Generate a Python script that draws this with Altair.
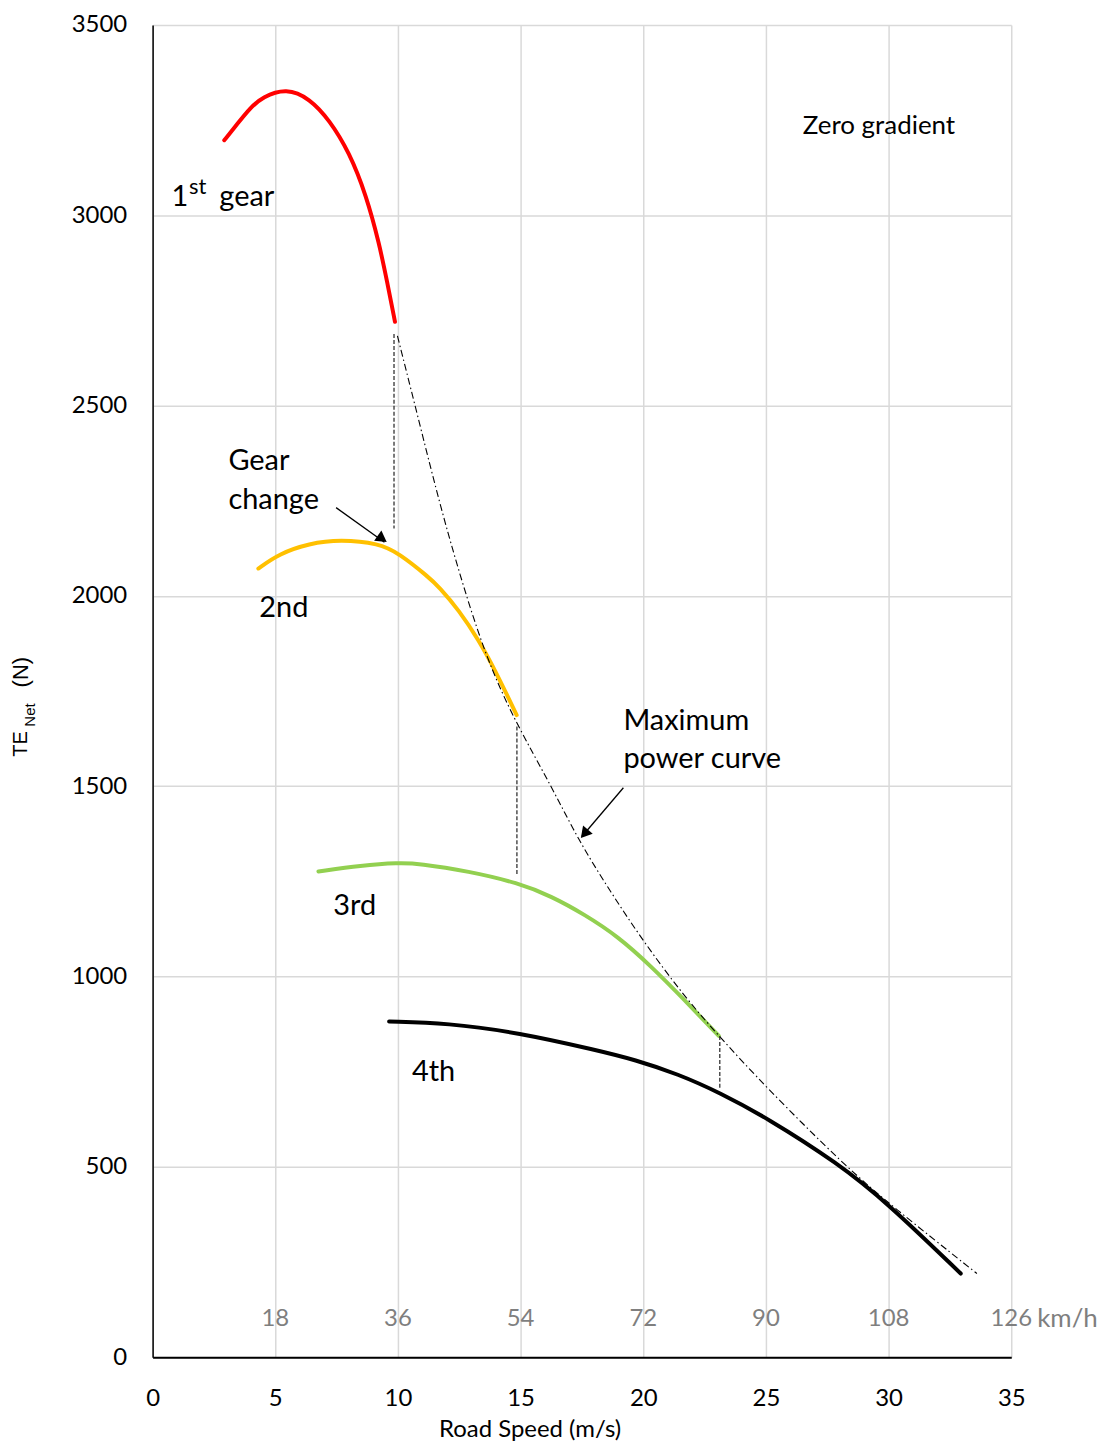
import altair as alt
import pandas as pd

# ---- data ----
gear1_x = [2.92, 3.43, 3.96, 4.49, 5.45, 6.40, 7.21, 8.02, 8.71, 9.24, 9.56, 9.88]
gear1_y = [3197, 3238, 3281, 3311, 3334, 3307, 3250, 3165, 3052, 2925, 2825, 2720]

gear2_x = [4.31, 5.16, 6.38, 7.65, 9.23, 10.04, 11.26, 11.67, 12.48, 13.29, 13.96, 14.84]
gear2_y = [2072, 2111, 2138, 2148, 2138, 2112, 2049, 2024, 1963, 1884, 1805, 1687]

gear3_x = [6.76, 8.50, 10.04, 10.85, 12.88, 14.91, 16.26, 17.61, 18.96, 20.31, 21.66, 23.08]
gear3_y = [1276, 1292, 1299, 1297, 1277, 1246, 1211, 1163, 1106, 1028, 940, 844]

gear4_x = [9.64, 12.00, 14.91, 18.15, 19.64, 21.42, 23.12, 25.01, 27.93, 29.96, 32.94]
gear4_y = [882, 878, 853, 806, 782, 744, 695, 630, 510, 405, 220]

maxp_x = [9.98, 10.72, 11.53, 12.34, 13.56, 14.84, 16.26, 17.34, 18.69, 20.04, 21.66, 23.08, 25.01, 28.20, 30.10, 33.60]
maxp_y = [2683, 2495, 2285, 2094, 1840, 1662, 1500, 1360, 1220, 1089, 949, 844, 709, 504, 399, 220]

# gear-change verticals: x, top, bottom
change_x = [9.84, 14.85, 23.12]
change_top = [2688, 1657, 844]
change_bot = [2177, 1264, 705]

gear_names = ["1st", "2nd", "3rd", "4th"]
gear_colors = ["#ff0000", "#ffc000", "#92d050", "#000000"]

kmh_pos = [5, 10, 15, 20, 25, 30, 35]
kmh_labels = ["18", "36", "54", "72", "90", "108", "126"]

x_ticks = [0, 5, 10, 15, 20, 25, 30, 35]
y_ticks = [0, 500, 1000, 1500, 2000, 2500, 3000, 3500]

FONT = "Lato"

# ---- tables ----
rows = []
for name, xs, ys in zip(gear_names, [gear1_x, gear2_x, gear3_x, gear4_x],
                        [gear1_y, gear2_y, gear3_y, gear4_y]):
    for i, (a, b) in enumerate(zip(xs, ys)):
        rows.append({"x": a, "y": b, "gear": name, "o": i})
curves = pd.DataFrame(rows)
maxp = pd.DataFrame({"x": maxp_x, "y": maxp_y, "o": list(range(len(maxp_x)))})
changes = pd.DataFrame({"x": change_x, "y": change_top, "y2": change_bot})
kmh = pd.DataFrame({"x": kmh_pos, "y": [100] * len(kmh_pos), "t": kmh_labels})

xscale = alt.Scale(domain=[0, 35], nice=False, zero=False)
yscale = alt.Scale(domain=[0, 3500], nice=False)
xaxis = alt.Axis(values=x_ticks, grid=True, gridColor="#d9d9d9", gridWidth=1.5,
                 domainColor="#000000", domainWidth=1.8, ticks=False, labelFlush=False,
                 labelFont=FONT, labelFontSize=24, labelColor="#000000", labelPadding=29,
                 title="Road Speed (m/s)", titleFont=FONT, titleFontSize=24,
                 titleFontWeight="normal", titleColor="#000000",
                 titleX=378, titleY=72, titleBaseline="middle", titleAlign="center")
yaxis = alt.Axis(values=y_ticks, grid=True, gridColor="#d9d9d9", gridWidth=1.5, format="d",
                 domainColor="#000000", domainWidth=1.5, ticks=False, labelFlush=False,
                 labelFont=FONT, labelFontSize=24, labelColor="#000000", labelPadding=26,
                 title="")
X = alt.X("x:Q", scale=xscale, axis=xaxis)
Y = alt.Y("y:Q", scale=yscale, axis=yaxis)

lines = alt.Chart(curves).mark_line(strokeWidth=4, interpolate="basis", strokeCap="round").encode(
    x=X, y=Y,
    color=alt.Color("gear:N", scale=alt.Scale(domain=gear_names, range=gear_colors), legend=None),
    order="o:Q",
)

maxline = alt.Chart(maxp).mark_line(strokeWidth=1.1, color="#000000", interpolate="basis",
                                     strokeDash=[7, 3, 1.5, 3]).encode(x=X, y=Y, order="o:Q")

vlines = alt.Chart(changes).mark_rule(strokeWidth=1.2, color="#222222", strokeDash=[4, 2]).encode(
    x=X, y=Y, y2="y2:Q")

kmh_text = alt.Chart(kmh).mark_text(font=FONT, fontSize=24, color="#7f7f7f",
                                    align="center", baseline="middle").encode(x=X, y=Y, text="t:N")
kmh_unit = alt.Chart(pd.DataFrame({"x": [35], "y": [100]})).mark_text(
    font=FONT, fontSize=26, color="#7f7f7f", align="left", baseline="middle", dx=26,
    text="km/h").encode(x=X, y=Y)

# annotations (data coordinates)
ann = pd.DataFrame({
    "x": [26.5, 3.09, 3.09, 4.35, 19.19, 19.19, 7.36, 10.57, 0.77, 2.72],
    "y": [3214, 2332, 2229, 1944, 1648, 1548, 1163, 726, 3023, 3023],
    "t": ["Zero gradient", "Gear", "change", "2nd", "Maximum", "power curve",
          "3rd", "4th", "1", "gear"],
    "s": [26, 29, 29, 29, 29, 29, 29, 29, 29, 29],
})
ann_text = alt.Chart(ann).mark_text(font=FONT, align="left", baseline="alphabetic",
                                    color="#000000").encode(
    x=X, y=Y, text="t:N", size=alt.Size("s:Q", scale=None, legend=None))
sup = alt.Chart(pd.DataFrame({"x": [1.48], "y": [3056]})).mark_text(
    font=FONT, fontSize=22, align="left", baseline="alphabetic", text="st",
    color="#000000").encode(x=X, y=Y)

# arrows
arrows = pd.DataFrame({"x": [7.48, 19.19], "y": [2232, 1496], "x2": [9.45, 17.50], "y2": [2141, 1368]})
arrow_lines = alt.Chart(arrows).mark_rule(strokeWidth=1.3, color="#000000").encode(
    x=X, y=Y, x2="x2:Q", y2="y2:Q")
head1 = alt.Chart(pd.DataFrame({"x": [9.36], "y": [2150]})).mark_point(
    shape="triangle-up", filled=True, size=160, color="#000000", opacity=1, angle=125).encode(x=X, y=Y)
head2 = alt.Chart(pd.DataFrame({"x": [17.60], "y": [1375]})).mark_point(
    shape="triangle-up", filled=True, size=160, color="#000000", opacity=1, angle=220).encode(x=X, y=Y)

# y-axis title with subscript (pixel positions relative to plot area)
one = pd.DataFrame({"a": [0]})
yt1 = alt.Chart(one).mark_text(font="Liberation Sans", fontSize=20, angle=270, align="center",
                               baseline="middle", text="TE", color="#000000").encode(
    x=alt.value(-132), y=alt.value(721))
yt2 = alt.Chart(one).mark_text(font="Liberation Sans", fontSize=15, angle=270, align="center",
                               baseline="middle", text="Net", color="#000000").encode(
    x=alt.value(-123), y=alt.value(692))
yt3 = alt.Chart(one).mark_text(font="Liberation Sans", fontSize=22, angle=270, align="center",
                               baseline="middle", text="(N)", color="#000000").encode(
    x=alt.value(-132), y=alt.value(649))

chart = alt.layer(
    lines, maxline, vlines, kmh_text, kmh_unit, ann_text, sup,
    arrow_lines, head1, head2, yt1, yt2, yt3,
).properties(
    width=861, height=1336,
    autosize=alt.AutoSizeParams(type="none"),
    padding={"left": 145, "top": 15, "right": 95, "bottom": 84},
    background="#ffffff",
).configure_view(stroke=None)

chart.save("out.html", embed_options={"renderer": "svg", "actions": False})
